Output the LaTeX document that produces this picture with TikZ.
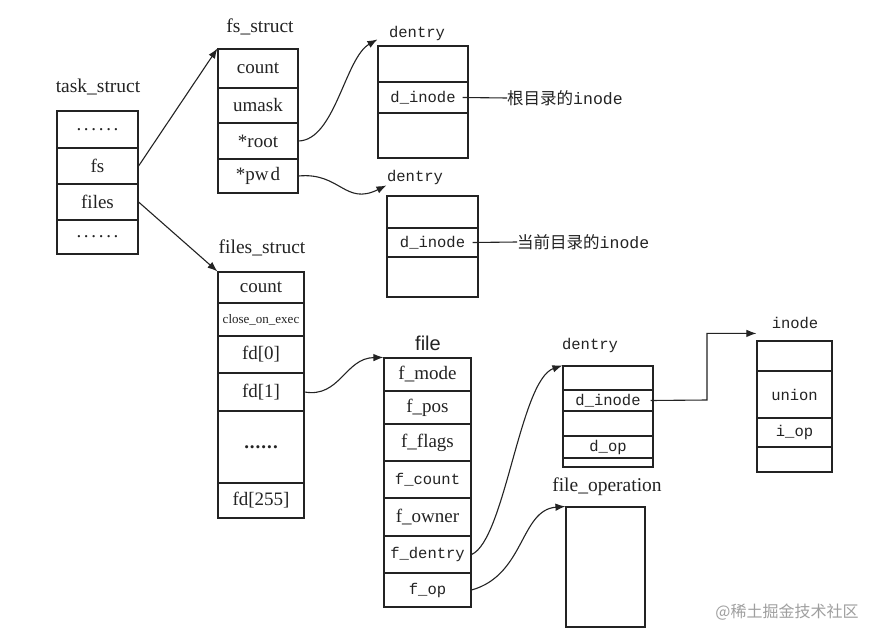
\documentclass[tikz,border=0pt]{standalone}
\usepackage{fontspec}
\setmainfont{Liberation Serif}
\setmonofont{Liberation Mono}
\newfontfamily\cjk{Noto Sans CJK SC}
\newfontfamily\arialfont{Liberation Sans}
\usetikzlibrary{arrows.meta}
\definecolor{ink}{RGB}{35,35,35}
\newcommand{\wdots}{.\kern2.7pt.\kern2.7pt.\kern2.7pt.\kern2.7pt.\kern2.7pt.}
\newcommand{\bdots}{\textbf{.\kern1pt.\kern1pt.\kern1pt.\kern1pt.\kern1pt.}}
\tikzset{
  cell/.style={draw=ink, line width=1.15pt, inner sep=0pt, text=ink, font=\fontsize{19}{21}\selectfont},
  mono/.style={font=\ttfamily\fontsize{15.5}{17}\selectfont},
  title/.style={inner sep=0pt, text=ink, font=\fontsize{19.5}{21}\selectfont},
  mtitle/.style={inner sep=0pt, text=ink, font=\ttfamily\fontsize{15.5}{17}\selectfont},
  link/.style={draw=ink, line width=1.1pt, -{Latex[length=10pt,width=7.5pt]}},
  plain/.style={draw=ink, line width=1.1pt},
  note/.style={inner sep=0pt, text=ink, anchor=west}
}
\begin{document}
\begin{tikzpicture}[x=1pt,y=-1pt]
\useasboundingbox[fill=white] (0,0) rectangle (888,642);

% task_struct
\node[title] (tsl) at (98,87) {task\_struct};
\node[cell, minimum width=81, minimum height=37] (ts1) at (97.5,129.5) {\wdots};
\node[cell, minimum width=81, minimum height=36] (tsfs) at (97.5,166) {fs};
\node[cell, minimum width=81, minimum height=36] (tsfiles) at (97.5,202) {files};
\node[cell, minimum width=81, minimum height=34] (ts4) at (97.5,237) {\wdots};

% fs_struct
\node[title] (fsl) at (260,27) {fs\_struct};
\node[cell, minimum width=80, minimum height=39] (fs1) at (258,68.5) {count};
\node[cell, minimum width=80, minimum height=35] (fs2) at (258,105.5) {umask};
\node[cell, minimum width=80, minimum height=36] (fs3) at (258,141) {*root};
\node[cell, minimum width=80, minimum height=34] (fs4) at (258,176) {*pw\kern2pt d};

% dentry 1
\node[mtitle] (d1l) at (417,33) {dentry};
\node[cell, minimum width=90, minimum height=36] (d11) at (423,64) {};
\node[cell, mono, minimum width=90, minimum height=31] (d12) at (423,97.5) {d\_inode};
\node[cell, minimum width=90, minimum height=45] (d13) at (423,135.5) {};
\node[note] (n1) at (507,98) {\cjk\fontsize{16.5}{18}\selectfont 根目录的\ttfamily\fontsize{16.5}{18}\selectfont inode};

% dentry 2
\node[mtitle] (d2l) at (415,177) {dentry};
\node[cell, minimum width=91, minimum height=32] (d21) at (432.5,212) {};
\node[cell, mono, minimum width=91, minimum height=29] (d22) at (432.5,242.5) {d\_inode};
\node[cell, minimum width=91, minimum height=40] (d23) at (432.5,277) {};
\node[note] (n2) at (517,242) {\cjk\fontsize{16.5}{18}\selectfont 当前目录的\ttfamily\fontsize{16.5}{18}\selectfont inode};

% files_struct
\node[title] (fil) at (262,248) {files\_struct};
\node[cell, minimum width=86, minimum height=31] (fi1) at (261,287.5) {count};
\node[cell, minimum width=86, minimum height=33, font=\fontsize{13}{15}\selectfont] (fi2) at (261,319.5) {close\_on\_exec};
\node[cell, minimum width=86, minimum height=37] (fi3) at (261,354.5) {fd[0]};
\node[cell, minimum width=86, minimum height=38] (fi4) at (261,392) {fd[1]};
\node[cell, minimum width=86, minimum height=72] (fi5) at (261,447) {\bdots};
\node[cell, minimum width=86, minimum height=35] (fi6) at (261,500.5) {fd[255]};

% file
\node[inner sep=0pt, text=ink, font=\arialfont\fontsize{20}{22}\selectfont] (fl) at (428,343) {file};
\node[cell, minimum width=87, minimum height=33] (f1) at (427.5,374.5) {f\_mode};
\node[cell, minimum width=87, minimum height=33] (f2) at (427.5,407.5) {f\_pos};
\node[cell, minimum width=87, minimum height=37] (f3) at (427.5,442.5) {f\_flags};
\node[cell, mono, minimum width=87, minimum height=37] (f4) at (427.5,479.5) {f\_count};
\node[cell, minimum width=87, minimum height=38] (f5) at (427.5,517) {f\_owner};
\node[cell, mono, minimum width=87, minimum height=37] (f6) at (427.5,554.5) {f\_dentry};
\node[cell, mono, minimum width=87, minimum height=34] (f7) at (427.5,590) {f\_op};

% dentry 3
\node[mtitle] (d3l) at (590,345) {dentry};
\node[cell, minimum width=90, minimum height=24] (d31) at (608,378) {};
\node[cell, mono, minimum width=90, minimum height=21] (d32) at (608,400.5) {d\_inode};
\node[cell, minimum width=90, minimum height=25] (d33) at (608,423.5) {};
\node[cell, mono, minimum width=90, minimum height=22] (d34) at (608,447) {d\_op};
\node[cell, minimum width=90, minimum height=9] (d35) at (608,462.5) {};

% file_operation
\node[title] (fol) at (607,487) {file\_operation};
\node[cell, minimum width=79, minimum height=120] (fo) at (605.5,567) {};

% inode
\node[mtitle] (inl) at (795,323) {inode};
\node[cell, minimum width=75, minimum height=30] (in1) at (794.5,356) {};
\node[cell, mono, minimum width=75, minimum height=47] (in2) at (794.5,394.5) {union};
\node[cell, mono, minimum width=75, minimum height=29] (in3) at (794.5,432.5) {i\_op};
\node[cell, minimum width=75, minimum height=25] (in4) at (794.5,459.5) {};

% watermark
\node[inner sep=0pt, text=gray!75, font=\cjk\fontsize{16}{18}\selectfont] (wm) at (787,612) {@稀土掘金技术社区};

% connectors
\path[link] (tsfs.east) -- (fs1.north west);
\path[link] (tsfiles.east) -- (fi1.north west);
\path[link] (fs3.east) .. controls (335,140) and (345,58) .. ([yshift=6]d11.north west);
\path[link] (fs4.east) .. controls (340,172) and (345,206) .. ([yshift=10]d21.north west);
\path[link] (fi4.east) .. controls (340,398) and (345,358) .. (f1.north west);
\path[link] (f6.east) .. controls (505,540) and (520,380) .. (d31.north west);
\path[link] (f7.east) .. controls (525,575) and (520,510) .. (fo.north west);
\coordinate (kink) at (707,400);
\path[link] ([xshift=-3]d32.east) -- (kink) |- ([yshift=7]in1.north west);
\path[plain] ([xshift=-6]d12.east) -- (n1.west);
\path[plain] ([xshift=-6]d22.east) -- (n2.west);
\end{tikzpicture}
\end{document}
